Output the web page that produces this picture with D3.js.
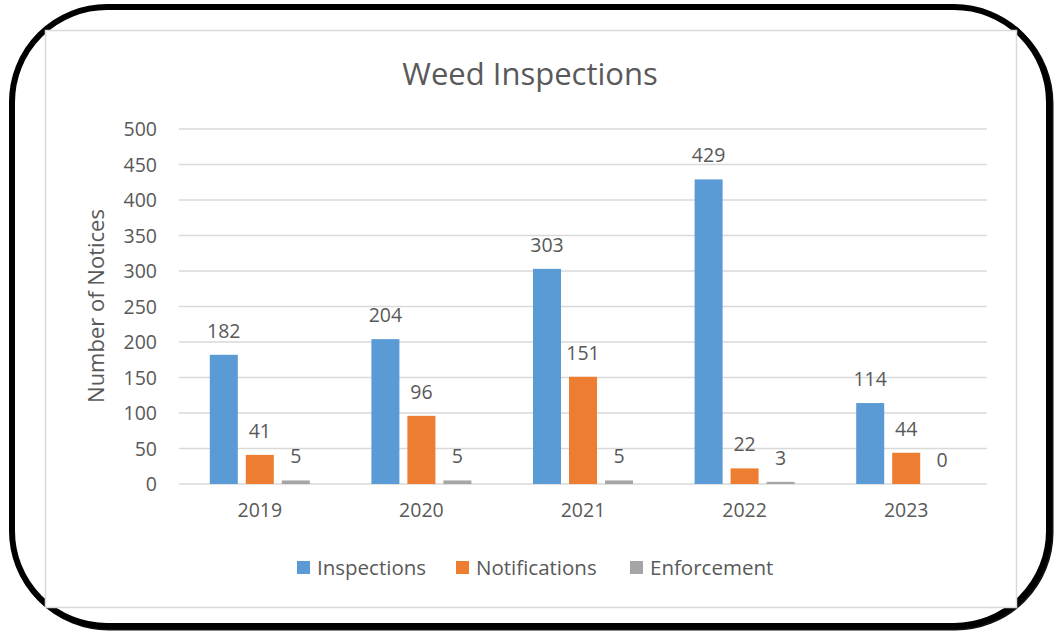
<!DOCTYPE html>
<html>
<head>
<meta charset="utf-8">
<script src="https://cdn.jsdelivr.net/npm/d3@7"></script>
<style>
  body { margin: 0; background: #fff; }
  text { font-family: "Open Sans", "Noto Sans", sans-serif; fill: #595959; }
</style>
</head>
<body>
<svg id="chart" width="1062" height="633"></svg>
<script>
var years = ["2019", "2020", "2021", "2022", "2023"];
var seriesNames = ["Inspections", "Notifications", "Enforcement"];
var inspections = [182, 204, 303, 429, 114];
var notifications = [41, 96, 151, 22, 44];
var enforcement = [5, 5, 5, 3, 0];
var yTicks = [0, 50, 100, 150, 200, 250, 300, 350, 400, 450, 500];
var colors = ["#5B9BD5", "#ED7D31", "#A5A5A5"];

var values = [inspections, notifications, enforcement];
var rows = years.map(function (yr, i) {
  return { year: yr, vals: seriesNames.map(function (s, j) { return { name: s, v: values[j][i], c: colors[j] }; }) };
});

var svg = d3.select("#chart");

// outer rounded frame, a bit heavier bottom-right
svg.append("rect")
  .attr("x", 13.5).attr("y", 8.5).attr("width", 1037).attr("height", 619)
  .attr("rx", 95).attr("ry", 95)
  .attr("fill", "none").attr("stroke", "#111").attr("stroke-width", 6);
svg.append("rect")
  .attr("x", 12).attr("y", 7).attr("width", 1037).attr("height", 619)
  .attr("rx", 95).attr("ry", 95)
  .attr("fill", "#fff").attr("stroke", "#000").attr("stroke-width", 6);

// chart area
svg.append("rect")
  .attr("x", 45.5).attr("y", 30.5).attr("width", 971).attr("height", 577)
  .attr("fill", "#fff").attr("stroke", "#D9D9D9").attr("stroke-width", 1.5);

var plotL = 179, plotR = 987, plotT = 129, plotB = 484;

var y = d3.scaleLinear().domain([0, 500]).range([plotB, plotT]);
var x0 = d3.scaleBand().domain(years).range([plotL, plotR]);
var groupW = 100;
var x1 = d3.scaleBand().domain(seriesNames)
  .range([(x0.bandwidth() - groupW) / 2, (x0.bandwidth() + groupW) / 2])
  .paddingInner(0.222);

// gridlines
svg.append("g").selectAll("line").data(yTicks).enter().append("line")
  .attr("x1", plotL).attr("x2", plotR)
  .attr("y1", function (d) { return y(d); }).attr("y2", function (d) { return y(d); })
  .attr("stroke", "#D9D9D9").attr("stroke-width", 1.5);

// y axis labels
var yAxis = d3.axisLeft(y).tickValues(yTicks).tickSize(0).tickPadding(0);
var gy = svg.append("g").attr("transform", "translate(157,0)").call(yAxis);
gy.select(".domain").remove();
gy.selectAll("text").attr("fill", "#595959")
  .style("font-size", "19.5px").attr("dy", "0.35em");

// x axis labels
var xAxis = d3.axisBottom(x0).tickSize(0).tickPadding(0);
var gx = svg.append("g").attr("transform", "translate(0,503)").call(xAxis);
gx.select(".domain").remove();
gx.selectAll("text").attr("fill", "#595959")
  .style("font-size", "19.5px").attr("dy", "0.7em");

// bars
var groups = svg.append("g").selectAll("g").data(rows).enter().append("g")
  .attr("transform", function (d) { return "translate(" + x0(d.year) + ",0)"; });

groups.selectAll("rect").data(function (d) { return d.vals; }).enter().append("rect")
  .attr("x", function (d) { return x1(d.name); })
  .attr("width", x1.bandwidth())
  .attr("y", function (d) { return y(d.v); })
  .attr("height", function (d) { return y(0) - y(d.v); })
  .attr("fill", function (d) { return d.c; });

groups.selectAll("text").data(function (d) { return d.vals; }).enter().append("text")
  .attr("x", function (d) { return x1(d.name) + x1.bandwidth() / 2; })
  .attr("y", function (d) { return y(d.v) - 17; })
  .attr("text-anchor", "middle")
  .style("font-size", "19.5px")
  .text(function (d) { return d.v; });

// title
svg.append("text")
  .attr("x", 530).attr("y", 85)
  .attr("text-anchor", "middle")
  .style("font-size", "31px")
  .text("Weed Inspections");

// y axis title
svg.append("text")
  .attr("transform", "translate(104,306) rotate(-90)")
  .attr("text-anchor", "middle")
  .style("font-size", "22px")
  .text("Number of Notices");

// legend
var legendX = [297, 456, 630];
var leg = svg.append("g").selectAll("g").data(seriesNames).enter().append("g")
  .attr("transform", function (d, i) { return "translate(" + legendX[i] + ",561)"; });
leg.append("rect").attr("width", 13).attr("height", 13)
  .attr("fill", function (d, i) { return colors[i]; });
leg.append("text").attr("x", 20).attr("y", 14)
  .style("font-size", "20.5px")
  .text(function (d) { return d; });
</script>
</body>
</html>
